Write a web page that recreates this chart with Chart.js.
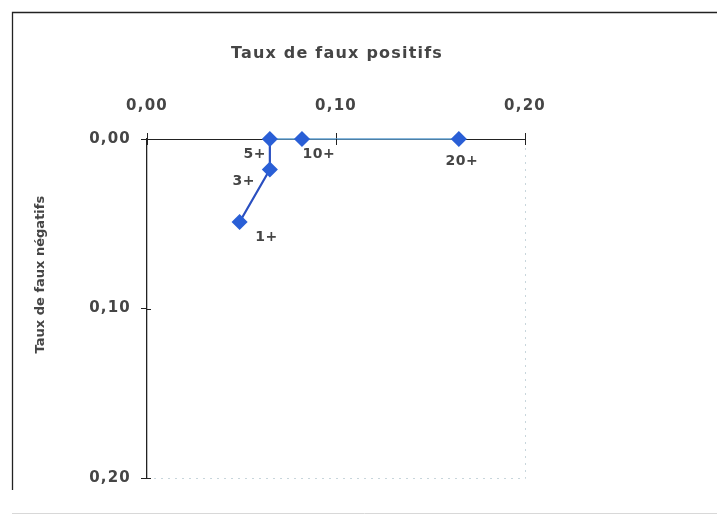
<!DOCTYPE html>
<html>
<head>
<meta charset="utf-8">
<script src="https://cdn.jsdelivr.net/npm/chart.js@4"></script>
<style>
  html, body { margin: 0; padding: 0; background: #fff; }
  #wrap { width: 717px; height: 520px; }
</style>
</head>
<body>
<div id="wrap"><canvas id="roc"></canvas></div>
<script>
// seuils et taux mesurés
const seuils = ["1+", "3+", "5+", "10+", "20+"];
const fauxPositifs = [0.049, 0.065, 0.065, 0.082, 0.165];
const fauxNegatifs = [0.049, 0.018, 0.000, 0.000, 0.000];
const graduations = [0, 0.1, 0.2];

const titreX = "Taux de faux positifs";
const titreY = "Taux de faux négatifs";

const police = "'DejaVu Sans', 'Liberation Sans', Arial, sans-serif";
const encre = "#454545";

// décalage des étiquettes par rapport au point (px)
const decalages = [[27, 15], [-26, 12], [-15, 15], [17, 15], [3, 22]];

const points = seuils.map((s, i) => ({ x: fauxPositifs[i], y: fauxNegatifs[i] }));

function virgule(v) {
    return v.toFixed(2).replace(".", ",");
}

const etiquettes = {
    id: "etiquettes",
    afterDatasetsDraw(chart) {
        const ctx = chart.ctx;
        const meta = chart.getDatasetMeta(0);
        ctx.save();
        ctx.letterSpacing = "0.5px";
        ctx.font = "bold 14px " + police;
        ctx.fillStyle = encre;
        ctx.textAlign = "center";
        ctx.textBaseline = "middle";
        meta.data.forEach((pt, i) => {
            ctx.fillText(seuils[i], pt.x + decalages[i][0], pt.y + decalages[i][1]);
        });
        ctx.restore();
    }
};

// cadre, bordure pointillée de la zone de tracé, titres, petites graduations
const decor = {
    id: "decor",
    beforeDraw(chart) {
        const ctx = chart.ctx;
        const a = chart.chartArea;
        // les graduations sont un peu espacées
        ctx.letterSpacing = "1.2px";
        ctx.save();
        ctx.strokeStyle = "#222";
        ctx.lineWidth = 1.3;
        ctx.beginPath();
        ctx.moveTo(12.5, 490);
        ctx.lineTo(12.5, 12.5);
        ctx.lineTo(717, 12.5);
        ctx.stroke();
        ctx.strokeStyle = "#d8d8d8";
        ctx.lineWidth = 1;
        ctx.beginPath();
        ctx.moveTo(12, 513.5);
        ctx.lineTo(717, 513.5);
        ctx.stroke();
        ctx.strokeStyle = "#c8d6dc";
        ctx.setLineDash([2, 5]);
        ctx.beginPath();
        ctx.moveTo(a.left, a.bottom + 0.5);
        ctx.lineTo(a.right + 0.5, a.bottom + 0.5);
        ctx.lineTo(a.right + 0.5, a.top);
        ctx.stroke();
        ctx.restore();
    },
    afterDraw(chart) {
        const ctx = chart.ctx;
        const a = chart.chartArea;
        const sx = chart.scales.x;
        const sy = chart.scales.y;
        ctx.save();
        ctx.strokeStyle = "#222";
        ctx.lineWidth = 1;
        graduations.forEach(v => {
            const px = Math.round(sx.getPixelForValue(v)) + 0.5;
            ctx.beginPath();
            ctx.moveTo(px, a.top);
            ctx.lineTo(px, a.top + 6);
            ctx.stroke();
            const py = Math.round(sy.getPixelForValue(v)) + 0.5;
            ctx.beginPath();
            ctx.moveTo(a.left, py);
            ctx.lineTo(a.left + 4, py);
            ctx.stroke();
        });
        ctx.fillStyle = encre;
        ctx.textAlign = "center";
        ctx.textBaseline = "middle";
        ctx.letterSpacing = "1.2px";
        ctx.font = "bold 16px " + police;
        ctx.fillText(titreX, (a.left + a.right) / 2 + 1, 54);
        ctx.translate(41, a.top + (a.bottom - a.top) * 0.4);
        ctx.rotate(-Math.PI / 2);
        ctx.letterSpacing = "0px";
        ctx.font = "bold 13px " + police;
        ctx.fillText(titreY, 0, 0);
        ctx.restore();
    }
};

new Chart(document.getElementById("roc"), {
    type: "scatter",
    data: {
        datasets: [
            {
                label: "Seuils",
                data: points,
                showLine: true,
                borderColor: "#2a4fc0",
                borderWidth: 2.2,
                backgroundColor: "#2a5fd6",
                pointBackgroundColor: "#2a5fd6",
                pointBorderColor: "#2a5fd6",
                pointStyle: "rectRot",
                pointRadius: 6.5,
                segment: {
                    // le long de l'axe le trait paraît plus clair
                    borderColor: ctx => ctx.p0.parsed.y === 0 && ctx.p1.parsed.y === 0 ? "#5f9fd0" : undefined,
                    borderWidth: ctx => ctx.p0.parsed.y === 0 && ctx.p1.parsed.y === 0 ? 1.6 : undefined
                },
                clip: false
            }
        ]
    },
    options: {
        responsive: true,
        maintainAspectRatio: false,
        animation: false,
        layout: {
            padding: { left: 0, top: 0, right: 192, bottom: 42 }
        },
        plugins: {
            legend: { display: false },
            tooltip: { enabled: false }
        },
        scales: {
            x: {
                type: "linear",
                position: "top",
                min: 0,
                max: 0.2,
                afterFit: scale => { scale.height = 139; },
                afterBuildTicks: scale => { scale.ticks = graduations.map(v => ({ value: v })); },
                ticks: {
                    callback: v => virgule(v),
                    color: encre,
                    font: { family: police, size: 15, weight: "bold" },
                    padding: 18
                },
                grid: {
                    drawOnChartArea: false,
                    color: "#222",
                    tickLength: 6,
                    tickColor: "#222"
                },
                border: { color: "#222", width: 1 }
            },
            y: {
                type: "linear",
                reverse: true,
                min: 0,
                max: 0.2,
                afterFit: scale => { scale.width = 147; },
                afterBuildTicks: scale => { scale.ticks = graduations.map(v => ({ value: v })); },
                ticks: {
                    callback: v => virgule(v),
                    color: encre,
                    font: { family: police, size: 15, weight: "bold" },
                    padding: 10
                },
                grid: {
                    drawOnChartArea: false,
                    tickLength: 6,
                    tickColor: "#222"
                },
                border: { color: "#222", width: 1.3 }
            }
        }
    },
    plugins: [decor, etiquettes]
});
</script>
</body>
</html>
